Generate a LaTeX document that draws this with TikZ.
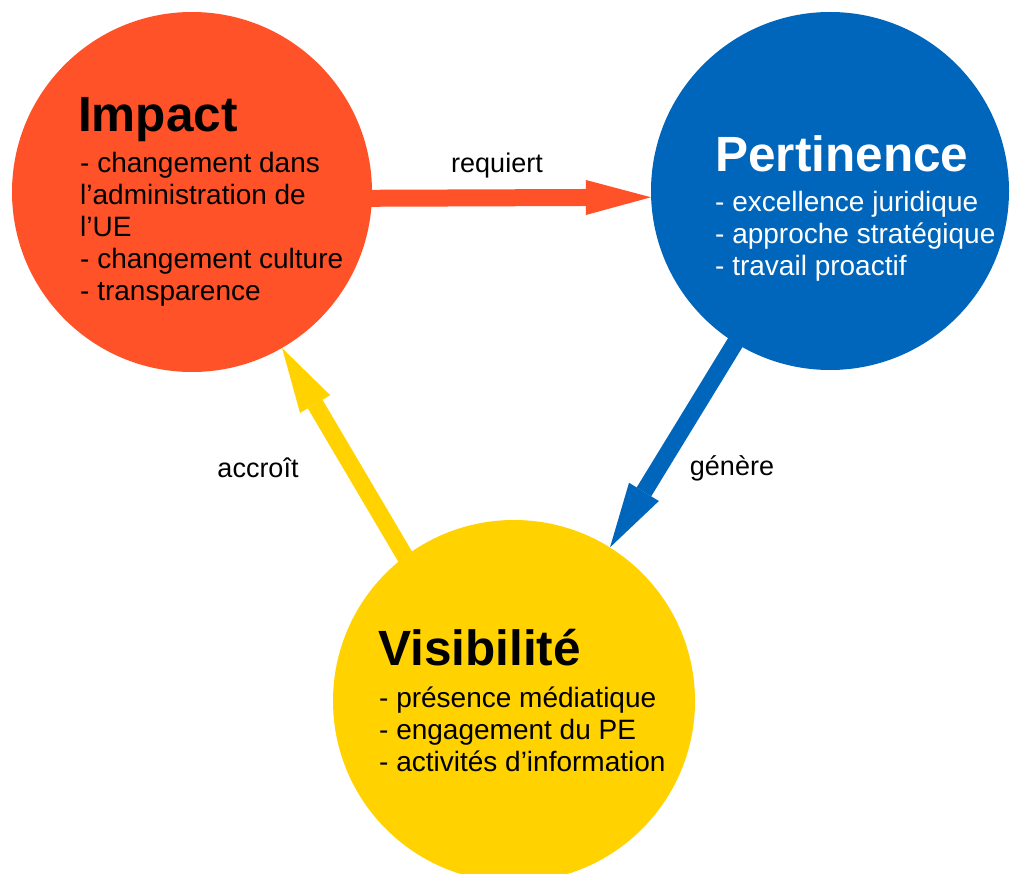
\documentclass[tikz,border=0pt]{standalone}
\usepackage{fontspec}
\setmainfont{Liberation Sans}
\usetikzlibrary{arrows.meta}
\definecolor{impred}{HTML}{FF5229}
\definecolor{perblue}{HTML}{0066BB}
\definecolor{visyel}{HTML}{FFD200}
\begin{document}
\begin{tikzpicture}[x=1pt,y=-1pt,
  bubble/.style={circle, inner sep=0pt, draw=none},
  ttl/.style={anchor=base west, inner sep=0pt, font=\fontsize{49.5}{56}\selectfont\bfseries},
  body/.style={anchor=base west, inner sep=0pt, font=\fontsize{28}{32}\selectfont},
  lbl/.style={anchor=base, inner sep=0pt, font=\fontsize{27}{32}\selectfont},
  conn/.style={line width=17pt, shorten <=-6pt, -{Triangle[length=65pt,width=35pt,line width=0pt]}},
]
\useasboundingbox[fill=white] (0,0) rectangle (1011,874);

% circles
\node[bubble, fill=impred, minimum size=360pt] (imp) at (192,192) {};
\node[bubble, fill=perblue, minimum size=358pt] (per) at (830,191) {};
\node[bubble, fill=visyel, minimum size=362pt] (vis) at (514,701) {};

% connectors
\draw[conn, impred] (imp.358.5) -- (per.182);
\draw[conn, perblue] (per.238) -- (vis.58);
\draw[conn, visyel] (vis.127) -- (imp.300);

% connector labels
\node[lbl] (lreq) at (497,173) {requiert};
\node[lbl] (lgen) at (732,475) {génère};
\node[lbl] (lacc) at (258,477) {accroît};

% Impact text
\node[ttl] (impt) at (78,132) {Impact};
\node[body] (impb) at (80,173) {\begin{tabular}[t]{@{}l@{}}- changement dans\\ l’administration de\\ l’UE\\ - changement culture\\ - transparence\end{tabular}};

% Pertinence text
\node[ttl, text=white] (pert) at (715,172) {Pertinence};
\node[body, text=white] (perb) at (715,212) {\begin{tabular}[t]{@{}l@{}}- excellence juridique\\ - approche stratégique\\ - travail proactif\end{tabular}};

% Visibilite text
\node[ttl] (vist) at (378,665) {Visibilité};
\node[body] (visb) at (379,707) {\begin{tabular}[t]{@{}l@{}}- présence médiatique\\ - engagement du PE\\ - activités d’information\end{tabular}};
\end{tikzpicture}
\end{document}
